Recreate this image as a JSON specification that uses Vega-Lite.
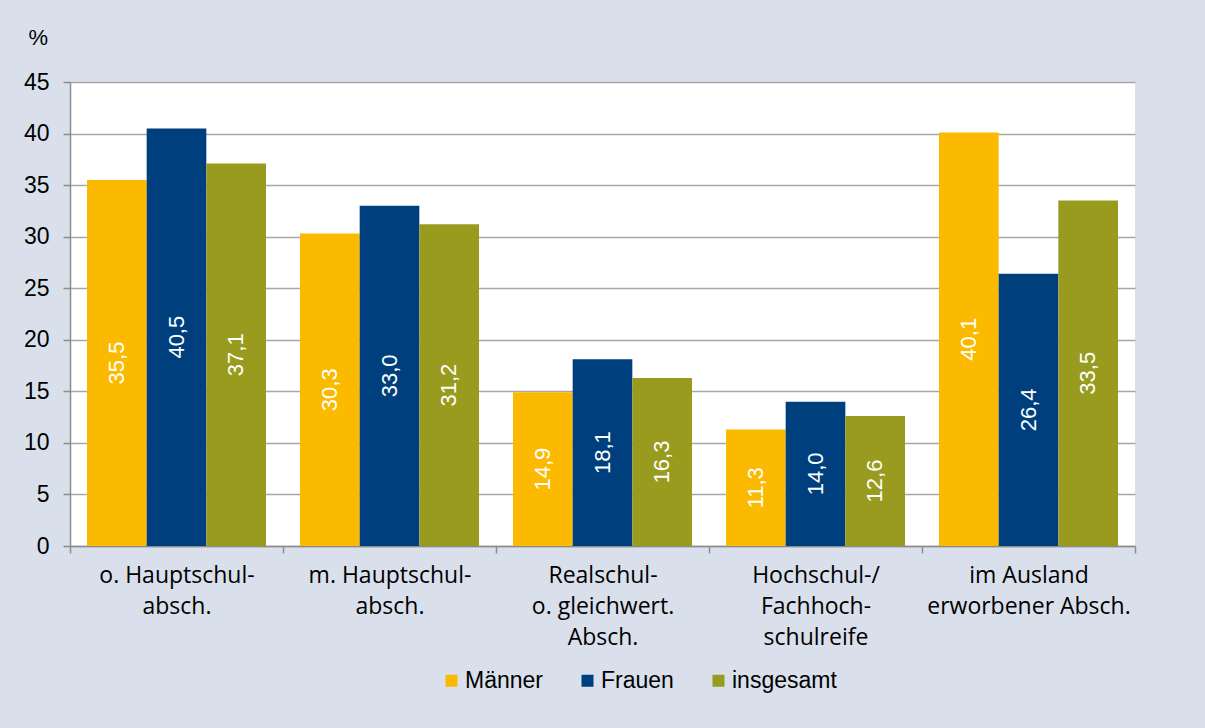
{
  "$schema": "https://vega.github.io/schema/vega-lite/v6.json",
  "width": 1065,
  "height": 464,
  "autosize": {"type": "none"},
  "padding": {"left": 70, "top": 82, "right": 70, "bottom": 182},
  "background": "#d9e0ec",
  "config": {
    "view": {"fill": "white", "stroke": null},
    "font": "Liberation Sans",
    "locale": {"number": {"decimal": ",", "thousands": ".", "grouping": [3], "currency": ["", " €"]}}
  },
  "data": {
    "values": [
      {"abschluss": "o. Hauptschul-\nabsch.", "gruppe": "Männer", "wert": 35.5},
      {"abschluss": "o. Hauptschul-\nabsch.", "gruppe": "Frauen", "wert": 40.5},
      {"abschluss": "o. Hauptschul-\nabsch.", "gruppe": "insgesamt", "wert": 37.1},
      {"abschluss": "m. Hauptschul-\nabsch.", "gruppe": "Männer", "wert": 30.3},
      {"abschluss": "m. Hauptschul-\nabsch.", "gruppe": "Frauen", "wert": 33.0},
      {"abschluss": "m. Hauptschul-\nabsch.", "gruppe": "insgesamt", "wert": 31.2},
      {"abschluss": "Realschul-\no. gleichwert.\nAbsch.", "gruppe": "Männer", "wert": 14.9},
      {"abschluss": "Realschul-\no. gleichwert.\nAbsch.", "gruppe": "Frauen", "wert": 18.1},
      {"abschluss": "Realschul-\no. gleichwert.\nAbsch.", "gruppe": "insgesamt", "wert": 16.3},
      {"abschluss": "Hochschul-/\nFachhoch-\nschulreife", "gruppe": "Männer", "wert": 11.3},
      {"abschluss": "Hochschul-/\nFachhoch-\nschulreife", "gruppe": "Frauen", "wert": 14.0},
      {"abschluss": "Hochschul-/\nFachhoch-\nschulreife", "gruppe": "insgesamt", "wert": 12.6},
      {"abschluss": "im Ausland\nerworbener Absch.", "gruppe": "Männer", "wert": 40.1},
      {"abschluss": "im Ausland\nerworbener Absch.", "gruppe": "Frauen", "wert": 26.4},
      {"abschluss": "im Ausland\nerworbener Absch.", "gruppe": "insgesamt", "wert": 33.5}
    ]
  },
  "layer": [
    {
      "mark": {"type": "bar"},
      "encoding": {
        "x": {
          "field": "abschluss", "type": "nominal", "sort": null,
          "scale": {"paddingInner": 0, "paddingOuter": 0},
          "axis": {
            "title": null, "labelAngle": 0, "labelExpr": "split(datum.label, '\\n')",
            "labelFont": "Open Sans", "labelFontSize": 23, "labelColor": "#000000",
            "labelLineHeight": 31, "labelPadding": 11, "labelLimit": 0, "labelBaseline": "top",
            "tickBand": "extent", "tickColor": "#8c8c8c", "tickSize": 7, "tickWidth": 1.5,
            "domainColor": "#8c8c8c", "domainWidth": 1.5
          }
        },
        "xOffset": {
          "field": "gruppe", "type": "nominal", "sort": ["Männer", "Frauen", "insgesamt"],
          "scale": {"paddingInner": 0, "paddingOuter": 0.285}
        },
        "y": {
          "field": "wert", "type": "quantitative",
          "scale": {"domain": [0, 45], "nice": false},
          "axis": {
            "title": "%", "titleAngle": 0, "titleX": -42, "titleY": -45,
            "titleAlign": "left", "titleBaseline": "middle", "titleFontSize": 22,
            "titleFontWeight": "normal", "titleColor": "#000000",
            "values": [0, 5, 10, 15, 20, 25, 30, 35, 40, 45],
            "labelFontSize": 23, "labelColor": "#000000", "labelPadding": 14,
            "tickSize": 7, "tickColor": "#8c8c8c", "tickWidth": 1.5,
            "domainColor": "#8c8c8c", "domainWidth": 1.5,
            "gridColor": "#a6a6a6", "gridWidth": 1.5
          }
        },
        "color": {
          "field": "gruppe", "type": "nominal",
          "scale": {"domain": ["Männer", "Frauen", "insgesamt"], "range": ["#fbba00", "#003f7d", "#999b1f"]},
          "legend": {
            "title": null, "orient": "none", "legendX": 370, "legendY": 587,
            "direction": "horizontal", "symbolType": "square", "symbolSize": 144,
            "symbolStrokeWidth": 0, "labelFontSize": 23, "labelColor": "#000000",
            "labelOffset": 2, "columnPadding": 33
          }
        }
      }
    },
    {
      "mark": {"type": "text", "angle": 270, "align": "center", "baseline": "middle", "color": "white", "fontSize": 22},
      "encoding": {
        "x": {"field": "abschluss", "type": "nominal", "sort": null},
        "xOffset": {"field": "gruppe", "type": "nominal", "sort": ["Männer", "Frauen", "insgesamt"]},
        "y": {"field": "wert", "type": "quantitative", "scale": {"domain": [0, 90], "nice": false}, "axis": null},
        "text": {"field": "wert", "type": "quantitative", "format": ".1f"}
      }
    }
  ],
  "resolve": {"scale": {"y": "independent"}}
}
